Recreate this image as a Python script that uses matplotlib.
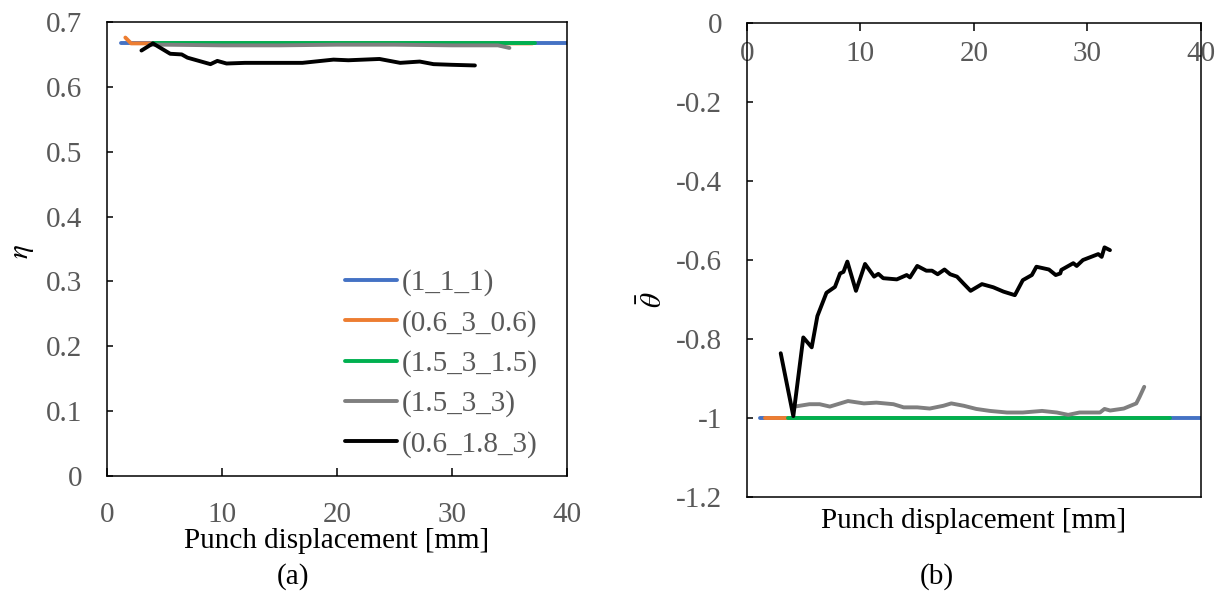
import matplotlib
matplotlib.use('Agg')
import matplotlib.pyplot as plt

plt.rcParams['font.family'] = ['Liberation Serif', 'DejaVu Serif']
plt.rcParams['mathtext.fontset'] = 'stix'
plt.rcParams['font.size'] = 21

"""################DATA################"""
labels = ['(1_1_1)', '(0.6_3_0.6)', '(1.5_3_1.5)', '(1.5_3_3)', '(0.6_1.8_3)']
colors = ['#4472C4', '#ED7D31', '#00B050', '#7F7F7F', '#000000']

# (a) stress triaxiality eta vs punch displacement
blue_x_a = [1.2, 10, 20, 30, 40]
blue_eta = [0.667, 0.667, 0.667, 0.667, 0.667]
orange_x_a = [1.6, 2.1, 4, 10, 20, 30, 37]
orange_eta = [0.676, 0.667, 0.667, 0.667, 0.667, 0.667, 0.667]
green_x_a = [4.0, 10, 20, 30, 37.2]
green_eta = [0.667, 0.667, 0.667, 0.667, 0.667]
gray_x_a = [3.7, 5, 10, 15, 20, 25, 30, 34, 35]
gray_eta = [0.665, 0.665, 0.664, 0.664, 0.665, 0.665, 0.664, 0.664, 0.660]
black_x_a = [3.0, 4.0, 5.5, 6.5, 7.0, 8.0, 9.0, 9.6, 10.4, 12, 15, 17,
             19.7, 21, 23.7, 25.5, 27.2, 28.4, 30, 32]
black_eta = [0.656, 0.667, 0.651, 0.650, 0.645, 0.640, 0.635, 0.640, 0.636,
             0.637, 0.637, 0.637, 0.642, 0.641, 0.643, 0.637, 0.639, 0.635,
             0.634, 0.633]

# (b) Lode angle parameter vs punch displacement
blue_x_b = [1.15, 10, 20, 30, 40]
blue_theta = [-1.0, -1.0, -1.0, -1.0, -1.0]
orange_x_b = [1.6, 10, 20, 30, 37]
orange_theta = [-1.0, -1.0, -1.0, -1.0, -1.0]
green_x_b = [3.6, 10, 20, 30, 37.3]
green_theta = [-1.0, -1.0, -1.0, -1.0, -1.0]
gray_x_b = [4.2, 5.5, 6.4, 7.3, 8.9, 10.3, 11.4, 12.9, 13.8, 15.0, 16.1,
            17.3, 18.0, 19.1, 20.2, 21.4, 22.9, 24.3, 26.0, 27.3, 28.3, 29.3,
            31.1, 31.5, 32.0, 33.2, 34.3, 34.6, 35.0]
gray_theta = [-0.971, -0.965, -0.965, -0.971, -0.957, -0.963, -0.961, -0.965,
              -0.973, -0.973, -0.976, -0.969, -0.963, -0.969, -0.977, -0.982,
              -0.986, -0.986, -0.982, -0.986, -0.992, -0.986, -0.986, -0.977,
              -0.981, -0.976, -0.963, -0.946, -0.921]
black_x_b = [2.97, 4.08, 4.96, 5.7, 6.2, 7.0, 7.75, 8.2, 8.5, 8.84, 9.6,
             10.4, 11.2, 11.57, 12.0, 13.2, 14.07, 14.36, 15.0, 15.8, 16.3,
             16.8, 17.4, 17.9, 18.5, 19.06, 19.7, 20.7, 21.7, 22.6, 23.6,
             24.3, 25.1, 25.5, 26.6, 27.2, 27.6, 27.7, 28.75, 29.05, 29.6,
             30.5, 30.95, 31.25, 31.5, 31.98]
black_theta = [-0.836, -0.995, -0.796, -0.821, -0.742, -0.683, -0.668,
               -0.634, -0.630, -0.604, -0.678, -0.610, -0.642, -0.635,
               -0.646, -0.649, -0.638, -0.644, -0.615, -0.627, -0.627,
               -0.636, -0.624, -0.636, -0.642, -0.659, -0.678, -0.661,
               -0.669, -0.680, -0.689, -0.651, -0.638, -0.617, -0.624,
               -0.638, -0.634, -0.625, -0.608, -0.615, -0.600, -0.590,
               -0.585, -0.592, -0.568, -0.575]

x_ticks = [0, 10, 20, 30, 40]
eta_ticks = [0, 0.1, 0.2, 0.3, 0.4, 0.5, 0.6, 0.7]
eta_ticklabels = ['0', '0.1', '0.2', '0.3', '0.4', '0.5', '0.6', '0.7']
theta_ticks = [0, -0.2, -0.4, -0.6, -0.8, -1.0, -1.2]
theta_ticklabels = ['0', '-0.2', '-0.4', '-0.6', '-0.8', '-1', '-1.2']

"""################PLOT################"""
tick_color = '#595959'
lw = 2.8

fig = plt.figure(figsize=(12.21, 6.01), dpi=100)

# (a)
ax1 = fig.add_axes([0.0876, 0.208, 0.3767, 0.7554])
series_a = [(blue_x_a, blue_eta), (orange_x_a, orange_eta),
            (green_x_a, green_eta), (gray_x_a, gray_eta),
            (black_x_a, black_eta)]
for (x, y), c, lab in zip(series_a, colors, labels):
    ax1.plot(x, y, color=c, lw=lw, label=lab, solid_capstyle='round')
ax1.set_xlim(0, 40)
ax1.set_ylim(0, 0.7)
ax1.set_xticks(x_ticks)
ax1.set_yticks(eta_ticks)
ax1.set_yticklabels(eta_ticklabels)
ax1.tick_params(axis='x', direction='in', length=6, width=1.1, pad=19,
                colors=tick_color)
ax1.tick_params(axis='y', direction='in', length=4, width=1.1, pad=18,
                colors=tick_color)
ax1.tick_params(color='k')
ax1.set_xlabel('Punch displacement [mm]', labelpad=0)
ax1.set_ylabel(r'$\eta$', ha='center', va='center')
ax1.yaxis.set_label_coords((23 - 107) / 460, 0.495)
for s in ax1.spines.values():
    s.set_linewidth(1.1)
leg = ax1.legend(loc='upper left', bbox_to_anchor=(0.517, 0.455),
                 frameon=False, borderpad=0, borderaxespad=0,
                 handlelength=1.8, handletextpad=0.15, labelspacing=0.46)
for t in leg.get_texts():
    t.set_color(tick_color)

# (b)
ax2 = fig.add_axes([0.6118, 0.173, 0.3718, 0.7887])
series_b = [(blue_x_b, blue_theta), (orange_x_b, orange_theta),
            (green_x_b, green_theta), (gray_x_b, gray_theta),
            (black_x_b, black_theta)]
for (x, y), c, lab in zip(series_b, colors, labels):
    ax2.plot(x, y, color=c, lw=lw, label=lab, solid_capstyle='round')
ax2.set_xlim(0, 40)
ax2.set_ylim(-1.2, 0)
ax2.set_xticks(x_ticks)
ax2.set_yticks(theta_ticks)
ax2.set_yticklabels(theta_ticklabels)
ax2.xaxis.set_ticks_position('top')
ax2.tick_params(axis='x', direction='in', length=6, width=1.1, pad=-32,
                labeltop=True, labelbottom=False, colors=tick_color)
ax2.tick_params(axis='y', direction='in', length=4, width=1.1, pad=18,
                colors=tick_color)
ax2.tick_params(color='k')
ax2.xaxis.set_label_position('bottom')
ax2.set_xlabel('Punch displacement [mm]', labelpad=8)
ax2.set_ylabel(r'$\bar{\theta}$', ha='center', va='center')
ax2.yaxis.set_label_coords((653 - 747) / 454, (497 - 300) / 474)
for s in ax2.spines.values():
    s.set_linewidth(1.1)

fig.text(293 / 1221, 1 - 577 / 601, '(a)', ha='center', va='center')
fig.text(937 / 1221, 1 - 577 / 601, '(b)', ha='center', va='center')

fig.savefig('out.png', dpi=100)
